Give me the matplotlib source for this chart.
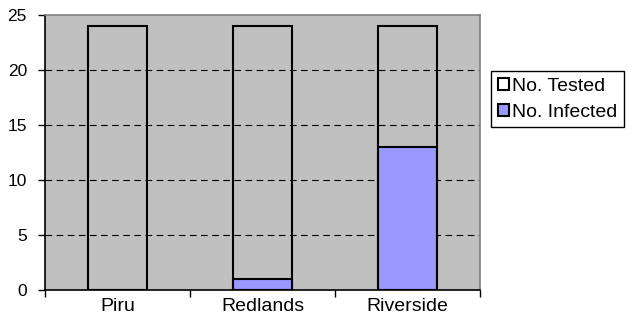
import matplotlib.pyplot as plt
import numpy as np
from matplotlib.patches import Patch

sites = ["Piru", "Redlands", "Riverside"]
tested = [24, 24, 24]
infected = [0, 1, 13]

plt.rcParams["font.family"] = ["Liberation Sans", "DejaVu Sans"]
plt.rcParams["font.size"] = 14

fig = plt.figure(figsize=(6.28, 3.24), dpi=100)
ax = fig.add_axes([45 / 628, 34 / 324, 435 / 628, 275 / 324])
ax.set_facecolor("#C0C0C0")

x = np.arange(len(sites))
width = 0.41
ax.bar(x, infected, width, color="#9999FF", edgecolor="black", linewidth=1.5, zorder=3)
ax.bar(x, tested, width, facecolor="none", edgecolor="black", linewidth=1.5, zorder=4)

ax.set_xlim(-0.5, len(sites) - 0.5)
ax.set_ylim(0, 25)
ax.set_yticks(range(0, 26, 5))
ax.set_xticks(x)
ax.set_xticklabels(sites)
ax.set_xticks(np.arange(-0.5, len(sites), 1), minor=True)
ax.tick_params(axis="x", which="major", length=0, pad=6)
ax.tick_params(axis="x", which="minor", length=5, width=1, color="black")
ax.tick_params(axis="y", length=5, width=1, pad=8, labelsize=12.5)

for yv in [5, 10, 15, 20]:
    ax.axhline(yv, color="black", linestyle=(0, (6, 4)), linewidth=0.8, zorder=1)

ax.spines["left"].set_color("black")
ax.spines["bottom"].set_color("black")
ax.spines["top"].set_color("#808080")
ax.spines["right"].set_color("#808080")
for s in ax.spines.values():
    s.set_linewidth(1.2)

handles = [
    Patch(facecolor="white", edgecolor="black", linewidth=1.5, label="No. Tested"),
    Patch(facecolor="#9999FF", edgecolor="black", linewidth=1.5, label="No. Infected"),
]
leg = fig.legend(handles=handles, loc="upper left",
                 bbox_to_anchor=(491 / 628, 1 - 71 / 324),
                 bbox_transform=fig.transFigure, frameon=True, fancybox=False,
                 framealpha=1, edgecolor="black", borderaxespad=0,
                 handlelength=0.6, handleheight=0.6, handletextpad=0.15,
                 labelspacing=0.45, borderpad=0.35, fontsize=14)
leg.get_frame().set_linewidth(1)

fig.savefig("out.png", dpi=100)
